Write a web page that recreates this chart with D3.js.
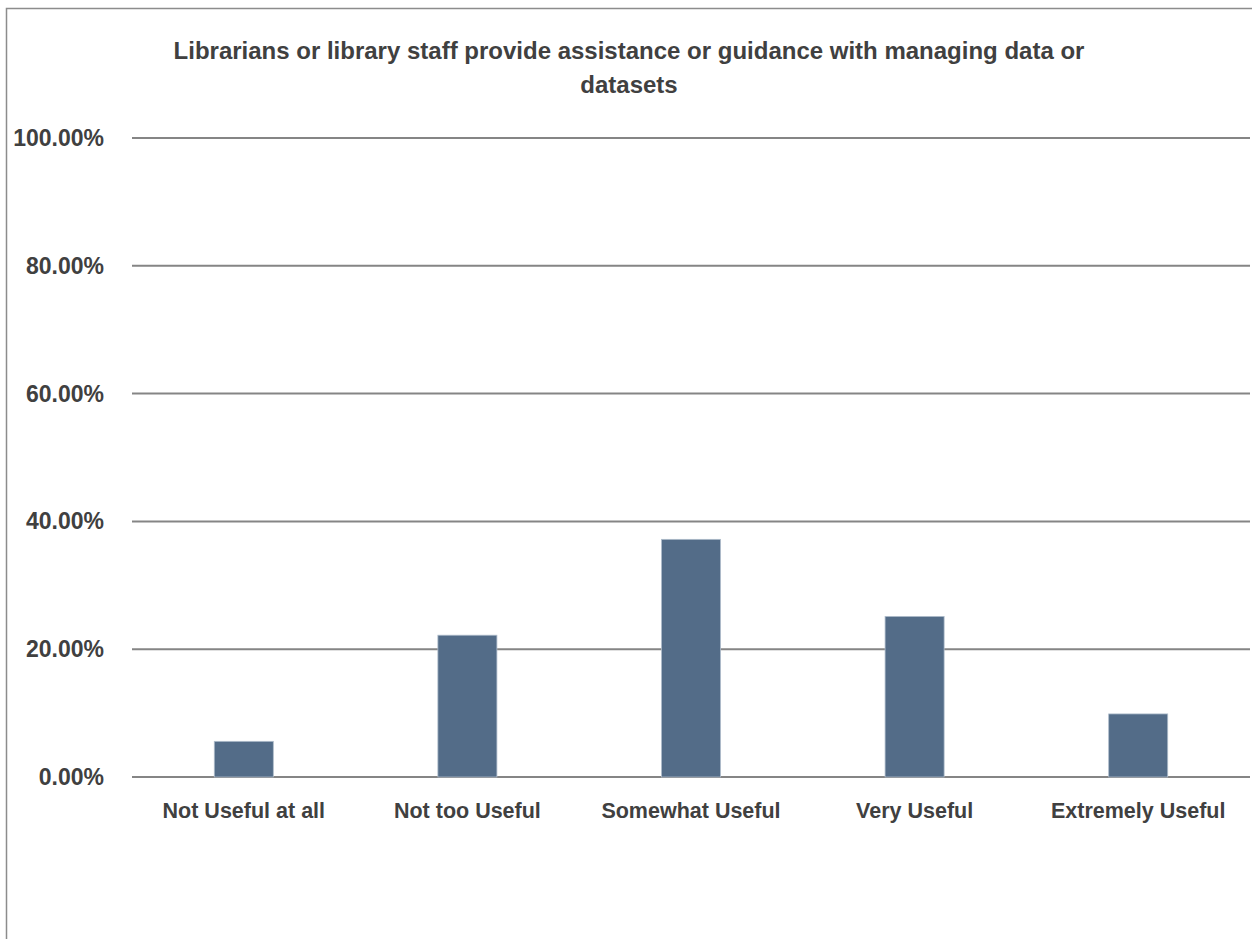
<!DOCTYPE html>
<html>
<head>
<meta charset="utf-8">
<script src="https://cdn.jsdelivr.net/npm/d3@7"></script>
<style>
  html, body { margin: 0; padding: 0; background: #fff; }
  svg { display: block; }
  text { font-family: "Liberation Sans", Arial, sans-serif; font-weight: bold; fill: #404040; }
</style>
</head>
<body>
<svg id="chart" width="1252" height="939"></svg>
<script>
// Survey responses: share of respondents per usefulness rating
const titleLines = [
  "Librarians or library staff provide assistance or guidance with managing data or",
  "datasets"
];
const categories = ["Not Useful at all", "Not too Useful", "Somewhat Useful", "Very Useful", "Extremely Useful"];
const values = [0.0558, 0.2219, 0.3719, 0.2513, 0.0987];
const yTicks = [0, 0.2, 0.4, 0.6, 0.8, 1.0];

const svg = d3.select("#chart");
const W = 1252, H = 939;
const margin = { left: 132, right: 2, top: 138, bottom: H - 777 };

// outer chart frame (runs past the right and bottom edges)
svg.append("rect")
  .attr("x", 6.5).attr("y", 8.5)
  .attr("width", W + 20).attr("height", H + 20)
  .attr("fill", "none")
  .attr("stroke", "#8c8c8c")
  .attr("stroke-width", 1.5);

const x = d3.scaleBand()
  .domain(categories)
  .range([margin.left, W - margin.right])
  .padding(0);

const y = d3.scaleLinear()
  .domain([0, 1])
  .range([H - margin.bottom, margin.top]);

// horizontal gridlines
svg.append("g")
  .selectAll("line")
  .data(yTicks)
  .join("line")
  .attr("x1", margin.left)
  .attr("x2", W - margin.right)
  .attr("y1", d => y(d))
  .attr("y2", d => y(d))
  .attr("stroke", "#858585")
  .attr("stroke-width", 2);

// y tick labels
const fmt = d3.format(".2%");
svg.append("g")
  .selectAll("text")
  .data(yTicks)
  .join("text")
  .attr("x", 104)
  .attr("y", d => y(d) + 2)
  .attr("text-anchor", "end")
  .attr("dominant-baseline", "middle")
  .style("font-size", "23px")
  .text(d => fmt(d));

// bars
const barW = x.bandwidth() * 0.264;
svg.append("g")
  .selectAll("rect")
  .data(values)
  .join("rect")
  .attr("x", (d, i) => x(categories[i]) + (x.bandwidth() - barW) / 2)
  .attr("width", barW)
  .attr("y", d => y(d))
  .attr("height", d => y(0) - y(d))
  .attr("fill", "#536c88")
  .attr("stroke", "#aebccb")
  .attr("stroke-width", 0.8);

// category labels
svg.append("g")
  .selectAll("text")
  .data(categories)
  .join("text")
  .attr("x", d => x(d) + x.bandwidth() / 2)
  .attr("y", 818)
  .attr("text-anchor", "middle")
  .style("font-size", "21.5px")
  .text(d => d);

// title
svg.append("g")
  .selectAll("text")
  .data(titleLines)
  .join("text")
  .attr("x", 629)
  .attr("y", (d, i) => 59 + i * 34)
  .attr("text-anchor", "middle")
  .style("font-size", "24px")
  .text(d => d);
</script>
</body>
</html>
